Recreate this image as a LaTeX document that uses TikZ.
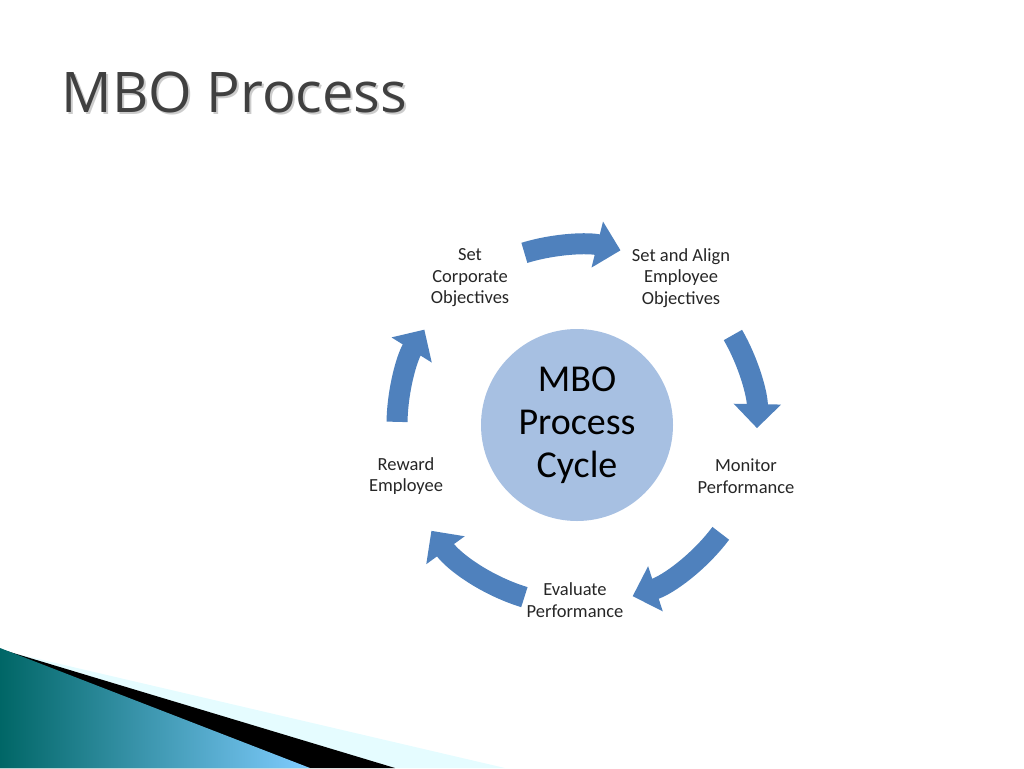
\documentclass[tikz,border=0pt]{standalone}
\usepackage{fontspec}
\setmainfont{Carlito}
\newfontfamily\titlefont{Open Sans}
\usetikzlibrary{arrows.meta}
\definecolor{cyclearrow}{RGB}{79,129,189}
\definecolor{hubfill}{RGB}{167,192,226}
\definecolor{titlegray}{RGB}{64,64,64}
\tikzset{
  steplabel/.style={align=center, font=\fontsize{18.5}{21.5}\selectfont, text=black!85},
  cyclearc/.style={cyclearrow, line width=21pt, -{Triangle[length=24pt,width=46pt]}}
}
\begin{document}
\begin{tikzpicture}[x=1pt,y=-1pt]
            \useasboundingbox (0,0) rectangle (1024,768);
            % background corner
            \fill[blue!10!cyan!10] (0,650) -- (505,768) -- (0,768) -- cycle;
            \fill[black] (0,649) -- (395,768) -- (0,768) -- cycle;
            \shade[left color=teal!80!black, right color=cyan!60!blue!50] (0,648) -- (310,768) -- (0,768) -- cycle;
            % title
            \node[anchor=base west, text=black!20, font=\titlefont\fontsize{56}{60}\selectfont] at (60,114) {MBO Process};
            \node[anchor=base west, text=titlegray, font=\titlefont\fontsize{56}{60}\selectfont] (title) at (58,112) {MBO Process};
            % hub
            \coordinate (c) at (577,425);
            \node[circle, fill=hubfill, minimum size=192pt, align=center,
                  font=\fontsize{38}{43}\selectfont] (hub) at (c) {MBO\\Process\\Cycle};
            % steps
            \node[steplabel] (corp) at (470,278) {Set\\Corporate\\Objectives};
            \node[steplabel] (align) at (681,278) {Set and Align\\Employee\\Objectives};
            \node[steplabel] (monitor) at (746,476) {Monitor\\Performance};
            \node[steplabel] (evaluate) at (575,600) {Evaluate\\Performance};
            \node[steplabel] (reward) at (406,476) {Reward\\Employee};
            % arrows
            \foreach \a/\b in {107/76, 30/-1, -37/-72, -107/-144, 179/148}
              \draw[cyclearc] ([shift={(c)}]\a:180pt) arc[start angle=\a, end angle=\b, radius=180pt];
\end{tikzpicture}
\end{document}
